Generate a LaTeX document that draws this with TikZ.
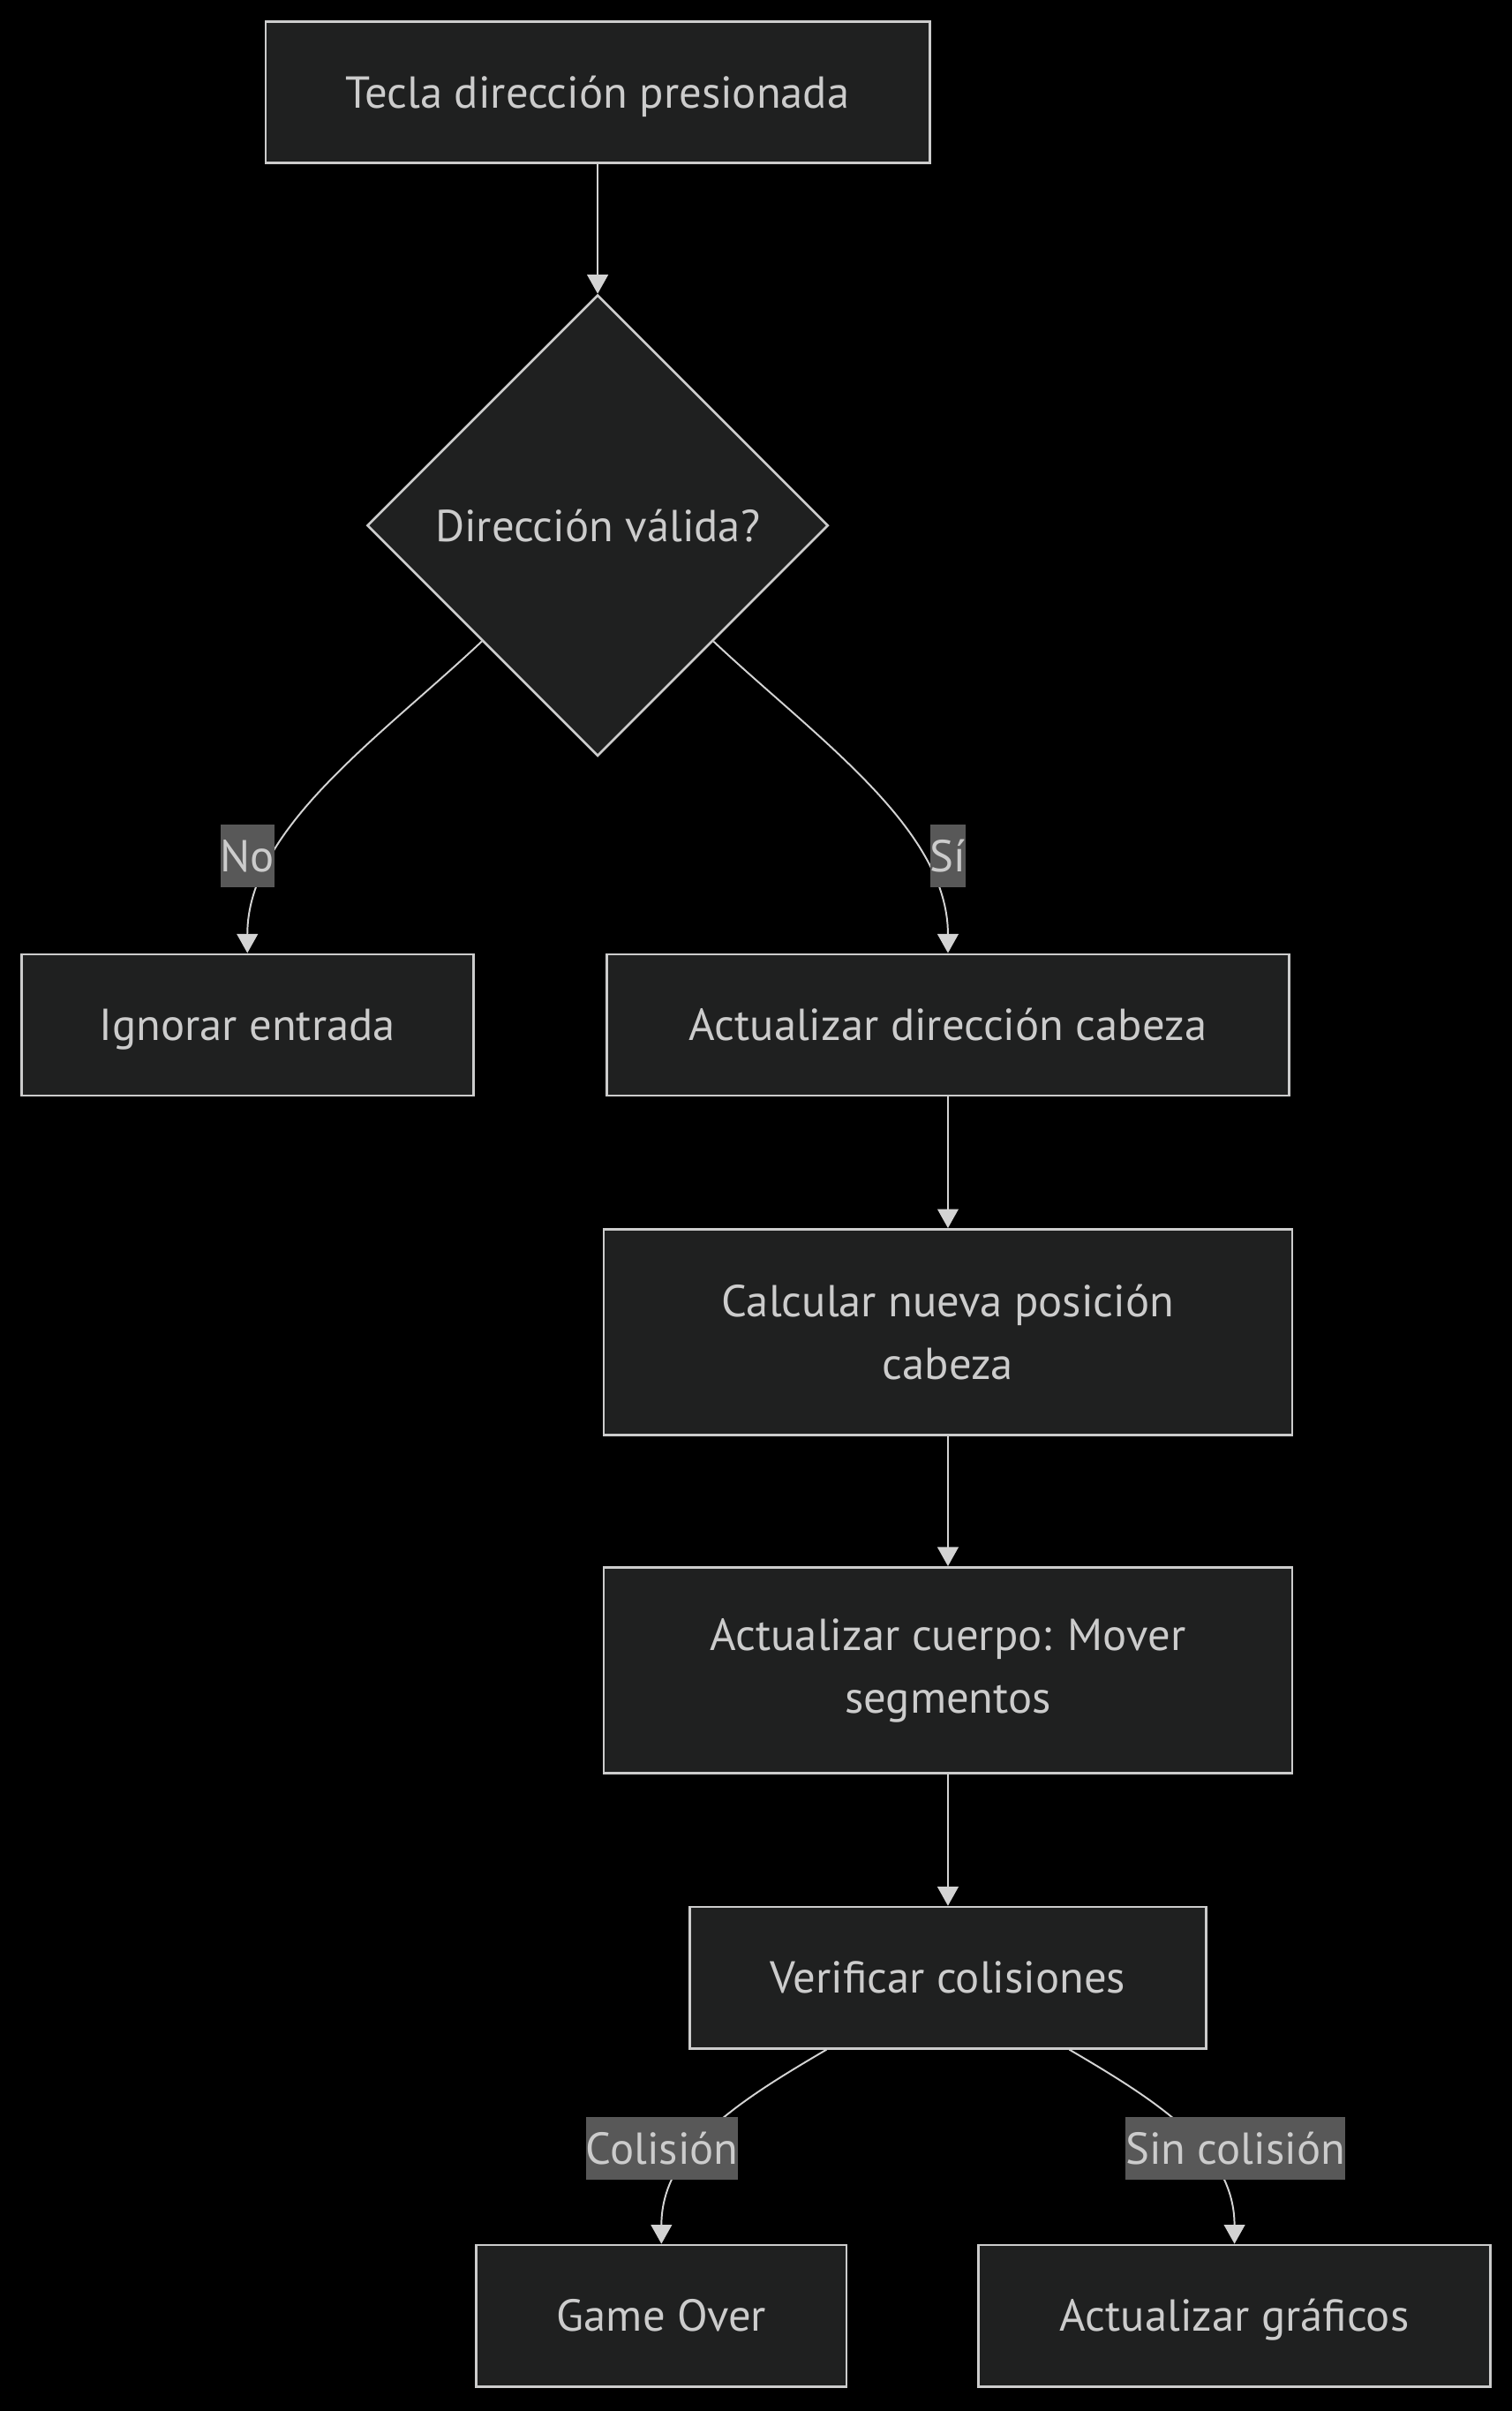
\documentclass[tikz,border=0pt]{standalone}
\usepackage{fontspec}
\setmainfont{PT Sans}
\usetikzlibrary{positioning,shapes.geometric,arrows.meta,calc}

\definecolor{nodefill}{HTML}{1F2020}
\definecolor{nodeline}{HTML}{CCCCCC}
\definecolor{edgeline}{HTML}{D3D3D3}
\definecolor{labelfill}{HTML}{585858}
\definecolor{textgrey}{HTML}{CCCCCC}

\tikzset{
  box/.style={draw=nodeline, fill=nodefill, line width=1.1pt, text=textgrey, align=center, inner sep=0pt, minimum height=2.3cm},
  oneline/.style={text height=14.5pt, text depth=0pt},
  decision/.style={diamond, draw=nodeline, fill=nodefill, line width=1.1pt, text=textgrey, inner sep=0pt, minimum width=7.5cm, minimum height=7.5cm, oneline},
  edge/.style={draw=edgeline, line width=0.8pt, -{Triangle[length=0.31cm,width=0.34cm]}},
  edgelabel/.style={fill=labelfill, text=textgrey, inner xsep=0pt, inner ysep=0pt, minimum height=1.025cm, oneline},
}

\begin{document}
\begin{tikzpicture} [x=0.025cm, y=-0.025cm, font=\fontsize{20.7}{29}\selectfont]
\fill[black] (0,0) rectangle (984,1569);
\node[box, oneline, minimum width=10.8cm] (tecla) at (389,60) {Tecla dirección presionada};
\node[decision] (valida) at (389,342) {Dirección válida?};
\node[box, oneline, minimum width=7.35cm] (ignorar) at (161,667) {Ignorar entrada};
\node[box, oneline, minimum width=11.1cm] (direccion) at (617,667) {Actualizar dirección cabeza};
\node[box, minimum width=11.2cm, minimum height=3.35cm] (posicion) at (617,867) {Calcular nueva posición\\cabeza};
\node[box, minimum width=11.2cm, minimum height=3.35cm] (cuerpo) at (617,1087) {Actualizar cuerpo: Mover\\segmentos};
\node[box, oneline, minimum width=8.4cm] (colisiones) at (617,1287) {Verificar colisiones};
\node[box, oneline, minimum width=6.025cm] (gameover) at (430.5,1507) {Game Over};
\node[box, oneline, minimum width=8.325cm] (graficos) at (803.5,1507) {Actualizar gráficos};

\draw[edge] (tecla.south) -- (valida.north);
\draw[edge] (valida.south west) .. controls +(-67,63) and +(0,-81) .. (ignorar.north);
\draw[edge] (valida.south east) .. controls +(67,63) and +(0,-81) .. (direccion.north);
\draw[edge] (direccion.south) -- (posicion.north);
\draw[edge] (posicion.south) -- (cuerpo.north);
\draw[edge] (cuerpo.south) -- (colisiones.north);
\draw[edge] ($(colisiones.south)+(-79,0)$) .. controls +(-58,34) and +(0,-61) .. (gameover.north);
\draw[edge] ($(colisiones.south)+(79,0)$) .. controls +(58,34) and +(0,-61) .. (graficos.north);

\node[edgelabel] (no) at (161,557) {No};
\node[edgelabel] (si) at (617,557) {Sí};
\node[edgelabel] (colision) at (431,1398) {Colisión};
\node[edgelabel] (sincolision) at (804,1398) {Sin colisión};
\end{tikzpicture}
\end{document}
